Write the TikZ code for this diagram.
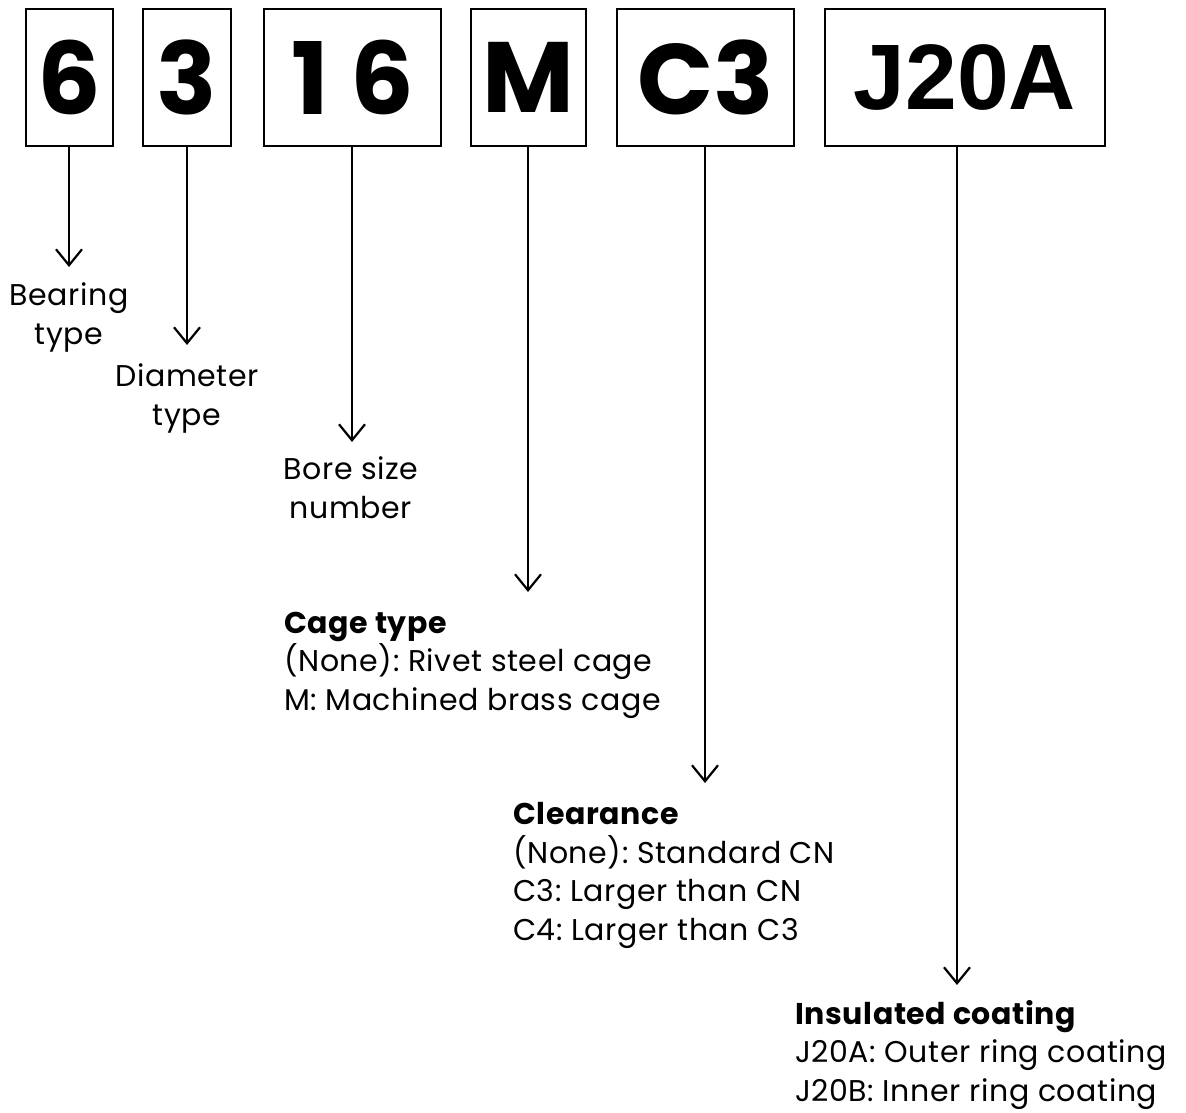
\documentclass[tikz,border=0pt]{standalone}
\usepackage{fontspec}
\setmainfont{Poppins}[LetterSpace=2]
\newfontfamily\boxfontA{Poppins}
\newfontfamily\boxfontB{Liberation Sans}
\usetikzlibrary{arrows.meta}
\tikzset{
  codebox/.style={draw, line width=2.2pt, inner sep=0pt, font=\boxfontA\fontsize{100}{100}\selectfont\bfseries},
  codeboxB/.style={draw, line width=2.2pt, inner sep=0pt, font=\boxfontB\fontsize{93}{93}\selectfont\bfseries},
  arr/.style={line width=2.2pt, -{Straight Barb[length=16pt,width=26pt]}},
  lbl/.style={inner sep=0pt, font=\fontsize{30}{38.5}\selectfont\frenchspacing},
}
\begin{document}
\begin{tikzpicture}[x=1pt,y=-1pt]
\useasboundingbox (0,0) rectangle (1186,1112);
% boxes
\node[codebox, minimum width=87pt, minimum height=137pt] (b1) at (69.5,77.5) {6};
\node[codebox, minimum width=88pt, minimum height=137pt] (b2) at (187,77.5) {3};
\node[codebox, minimum width=177pt, minimum height=137pt] (b3) at (352.5,77.5) {1 6};
\node[codebox, minimum width=115pt, minimum height=137pt] (b4) at (528.5,77.5) {M};
\node[codebox, minimum width=177pt, minimum height=137pt] (b5) at (705.5,77.5) {C3};
\node[codeboxB, minimum width=280pt, minimum height=137pt] (b6) at (965,77.5) {J20A};
% arrow tips
\coordinate (t1) at (69,267);
\coordinate (t2) at (187,345);
\coordinate (t3) at (352,442);
\coordinate (t4) at (528,592);
\coordinate (t5) at (705,783);
\coordinate (t6) at (957,985);
\draw[arr] (b1.south -| t1) -- (t1);
\draw[arr] (b2.south -| t2) -- (t2);
\draw[arr] (b3.south -| t3) -- (t3);
\draw[arr] (b4.south -| t4) -- (t4);
\draw[arr] (b5.south -| t5) -- (t5);
\draw[arr] (b6.south -| t6) -- (t6);
% labels (anchor = baseline of last line)
\node[lbl, align=center, anchor=base] (l1) at (69,344) {Bearing\\type};
\node[lbl, align=center, anchor=base] (l2) at (187,425) {Diameter\\type};
\node[lbl, align=center, anchor=base] (l3) at (351,518) {Bore size\\number};
\node[lbl, align=left, anchor=base west] (l4) at (284,710) {\textbf{Cage type}\\(None): Rivet steel cage\\M: Machined brass cage};
\node[lbl, align=left, anchor=base west] (l5) at (513,940) {\textbf{Clearance}\\(None): Standard CN\\C3: Larger than CN\\C4: Larger than C3};
\node[lbl, align=left, anchor=base west] (l6) at (795,1101) {\textbf{Insulated coating}\\J20A: Outer ring coating\\J20B: Inner ring coating};
\end{tikzpicture}
\end{document}
